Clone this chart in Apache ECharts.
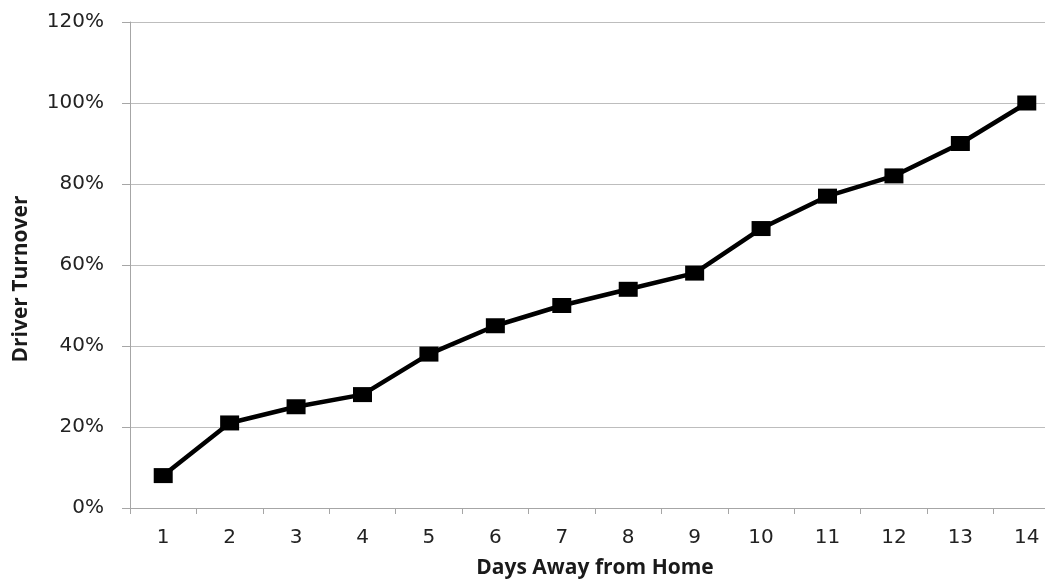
<!DOCTYPE html>
<html>
<head>
<meta charset="utf-8">
<script src="https://cdn.jsdelivr.net/npm/echarts@6/dist/echarts.min.js"></script>
<style>html,body{margin:0;padding:0;background:#fff;}#c{width:1045px;height:579px;}</style>
</head>
<body>
<div id="c"></div>
<script>
const categories = ['1','2','3','4','5','6','7','8','9','10','11','12','13','14'];
const turnover = [8, 21, 25, 28, 38, 45, 50, 54, 58, 69, 77, 82, 90, 100];
const yTicks = [0, 20, 40, 60, 80, 100, 120];

const chart = echarts.init(document.getElementById('c'));
chart.setOption({
  animation: false,
  grid: { left: 130, top: 22, bottom: 71, right: -15, outerBoundsMode: 'none', containLabel: false },
  xAxis: {
    type: 'category',
    data: categories,
    boundaryGap: true,
    name: 'Days Away from Home',
    nameLocation: 'middle',
    nameGap: 50,
    nameTextStyle: { fontFamily: 'Open Sans', fontWeight: 'bold', fontSize: 21, color: '#1a1a1a' },
    axisLine: { lineStyle: { color: '#a6a6a6', width: 1 } },
    axisTick: { show: true, alignWithLabel: false, length: 6, lineStyle: { color: '#a6a6a6' } },
    axisLabel: { fontFamily: 'DejaVu Sans', fontSize: 20, color: '#222', margin: 20 },
    splitLine: { show: false }
  },
  yAxis: {
    type: 'value',
    min: yTicks[0],
    max: yTicks[yTicks.length - 1],
    interval: 20,
    name: 'Driver Turnover',
    nameLocation: 'middle',
    nameGap: 98,
    nameTextStyle: { fontFamily: 'Open Sans', fontWeight: 'bold', fontSize: 21, color: '#1a1a1a', padding: [0, 28, 0, 0] },
    axisLine: { show: true, lineStyle: { color: '#a6a6a6', width: 1 } },
    axisTick: { show: true, length: 8, lineStyle: { color: '#a6a6a6' } },
    axisLabel: { fontFamily: 'DejaVu Sans', fontSize: 20, color: '#222', margin: 26, formatter: v => v + '%' },
    splitLine: { show: true, lineStyle: { color: '#bdbdbd', width: 1 } }
  },
  series: [{
    type: 'line',
    data: turnover,
    symbol: 'rect',
    symbolSize: [19, 15],
    lineStyle: { color: '#000', width: 4.5 },
    itemStyle: { color: '#000' }
  }]
});
</script>
</body>
</html>
